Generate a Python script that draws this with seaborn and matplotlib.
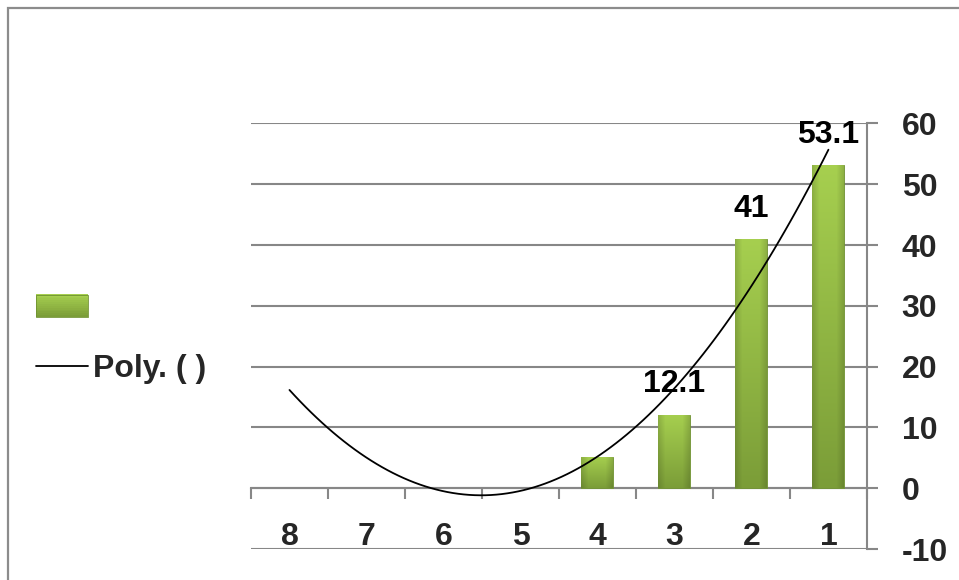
import numpy as np
import pandas as pd
import matplotlib
matplotlib.use("Agg")
import matplotlib.pyplot as plt
import matplotlib.colors as mcolors
from matplotlib.patches import Rectangle
from matplotlib.legend_handler import HandlerPatch
import seaborn as sns

# ---- data ----
categories = ["8", "7", "6", "5", "4", "3", "2", "1"]
values = [0, 0, 0, 0, 5.1, 12.1, 41, 53.1]
bar_labels = ["", "", "", "", "", "12.1", "41", "53.1"]
# polynomial trendline as read at each category position
trend_values = [15.8, 5.3, 0.0, -0.4, 4.9, 16.0, 33.5, 55.8]
y_ticks = [-10, 0, 10, 20, 30, 40, 50, 60]
legend_labels = ["", "Poly. ( )"]

sns.set_style("white")
plt.rcParams["font.family"] = ["Liberation Sans", "DejaVu Sans"]
plt.rcParams["font.weight"] = "bold"

FS = 23
GRID = "#878787"

df = pd.DataFrame({"cat": categories, "val": values})
pos = np.arange(len(categories))
tdf = pd.DataFrame({"pos": pos, "trend": trend_values})

fig = plt.figure(figsize=(9.59, 5.80), dpi=100)
ax = fig.add_axes([0.2617, 0.0534, 0.6423, 0.7337])

sns.barplot(data=df, x="cat", y="val", order=categories, color="#8fbb3e",
            width=0.415, edgecolor="#6f9230", linewidth=0.6, ax=ax, zorder=3)

# gradient fill for bars
top_c = np.array(mcolors.to_rgb("#a6cf4f"))
bot_c = np.array(mcolors.to_rgb("#7b9d38"))
side_dark = 0.86
ny, nx = 64, 32
t = np.linspace(0, 1, ny)[:, None, None]
col = top_c * (1 - t) + bot_c * t
xx = np.linspace(-1, 1, nx)[None, :, None]
shade = 1 - (1 - side_dark) * np.clip((np.abs(xx) - 0.55) / 0.45, 0, 1)
img = np.clip(col * shade, 0, 1)
for p in list(ax.patches):
    h = p.get_height()
    if h <= 0:
        p.set_linewidth(0)
        continue
    x0 = p.get_x()
    w = p.get_width()
    im = ax.imshow(img, extent=[x0, x0 + w, 0, h], aspect="auto",
                   origin="upper", zorder=3.5, interpolation="bilinear")
    im.set_clip_path(p)

ax.bar_label(ax.containers[0], labels=bar_labels, padding=11,
             fontsize=FS, fontweight="bold", color="black")

sns.regplot(data=tdf, x="pos", y="trend", order=2, ci=None, scatter=False,
            truncate=True, ax=ax, line_kws=dict(color="black", lw=1.3, zorder=5))
trend_line = ax.lines[-1]

ax.set_xlim(-0.5, len(categories) - 0.5)
ax.set_ylim(-10, 60)
ax.set_xlabel("")
ax.set_ylabel("")

# y axis on the right
ax.yaxis.tick_right()
ax.set_yticks(y_ticks)
ax.set_yticklabels([str(v) for v in y_ticks])
ax.tick_params(axis="y", direction="out", length=8, width=1.5, color=GRID,
               pad=17, labelsize=FS, right=True, left=False)
ax.grid(axis="y", color=GRID, lw=1.5, zorder=0)
ax.set_axisbelow(True)

# x axis at zero with ticks at category boundaries
ax.spines["bottom"].set_position(("data", 0))
ax.spines["bottom"].set_color(GRID)
ax.spines["bottom"].set_linewidth(1.5)
ax.set_xticks(pos)
ax.set_xticklabels(categories)
ax.set_xticks(np.arange(-0.5, len(categories), 1.0), minor=True)
ax.tick_params(axis="x", which="major", length=0, pad=24, labelsize=FS)
ax.tick_params(axis="x", which="minor", direction="out", length=8, width=1.5,
               color=GRID, bottom=True)
for lab in ax.get_xticklabels() + ax.get_yticklabels():
    lab.set_fontweight("bold")

ax.spines["top"].set_visible(False)
ax.spines["left"].set_visible(False)
ax.spines["right"].set_color(GRID)
ax.spines["right"].set_linewidth(1.5)


class GradientHandler(HandlerPatch):
    def create_artists(self, legend, orig_handle, xdescent, ydescent,
                       width, height, fontsize, trans):
        arts = []
        n = 12
        for i in range(n):
            f = i / (n - 1)
            c = top_c * f + bot_c * (1 - f)
            r = Rectangle((-xdescent, -ydescent + height * i / n), width,
                          height / n + 0.3, facecolor=c, edgecolor="none",
                          transform=trans)
            arts.append(r)
        arts.append(Rectangle((-xdescent, -ydescent), width, height,
                              facecolor="none", edgecolor="#6f9230", lw=0.6,
                              transform=trans))
        return arts


bar_handle = ax.containers[0].patches[-1]
fig.legend(handles=[bar_handle, trend_line], labels=legend_labels,
           loc="upper left", bbox_to_anchor=(36 / 959, 1 - 294 / 580),
           frameon=False, prop=dict(weight="bold", size=FS),
           handlelength=1.63, handleheight=0.7, handletextpad=0.16,
           labelspacing=0.95, borderpad=0, borderaxespad=0,
           handler_map={Rectangle: GradientHandler()})

# outer chart border
fig.patches.append(Rectangle((8 / 959, -0.1), 1.2, 1 - 8 / 580 + 0.1,
                             transform=fig.transFigure, fill=False,
                             edgecolor="#8c8c8c", lw=1.6, zorder=0))

fig.savefig("out.png", dpi=100)
